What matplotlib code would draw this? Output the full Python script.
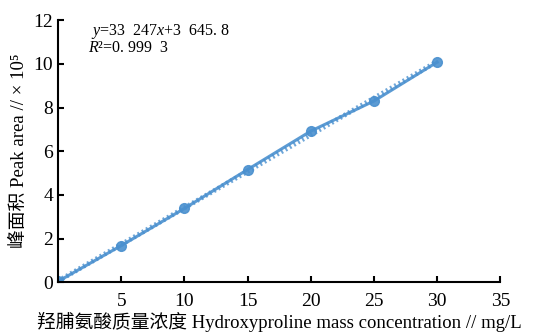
import matplotlib.pyplot as plt
import numpy as np

plt.rcParams['font.family'] = ['Liberation Serif', 'Noto Sans CJK SC', 'DejaVu Serif']
plt.rcParams['mathtext.fontset'] = 'custom'
plt.rcParams['mathtext.rm'] = 'Liberation Serif'
plt.rcParams['mathtext.it'] = 'Liberation Serif:italic'

conc = [0, 5, 10, 15, 20, 25, 30]
area = [0.04, 1.68, 3.38, 5.16, 6.92, 8.3, 10.08]
x_ticks = [5, 10, 15, 20, 25, 30, 35]
y_ticks = [0, 2, 4, 6, 8, 10, 12]

fig, ax = plt.subplots(figsize=(5.38, 3.36), dpi=100)
fig.subplots_adjust(left=0.108, right=0.93, bottom=0.16, top=0.94)

c = '#4a90cf'
k, b = np.polyfit(conc, area, 1)
xs = np.array([0, 30])
ax.plot(xs, k * xs + b, color=c, lw=3.5, ls=(0, (0.4, 0.6)), alpha=0.8)
ax.plot(conc, area, color=c, lw=2.2, marker='o', ms=7, alpha=0.9)

ax.set_xlim(0, 35)
ax.set_ylim(0, 12)
ax.set_xticks(x_ticks)
ax.set_yticks(y_ticks)
for s in ['top', 'right']:
    ax.spines[s].set_visible(False)
for s in ['left', 'bottom']:
    ax.spines[s].set_linewidth(1.5)
ax.tick_params(direction='in', length=4, width=1.5, labelsize=14)
ax.tick_params(axis='x', pad=8)

ax.set_xlabel('羟脯氨酸质量浓度 Hydroxyproline mass concentration // mg/L', fontsize=13.5, labelpad=1)
ax.set_ylabel('峰面积 Peak area // × 10⁵', fontsize=13.5, labelpad=4)
ax.text(2.6, 11.47, '$y$=33  247$x$+3  645. 8', fontsize=11.5, va='center')
ax.text(2.4, 10.72, '$R$²=0. 999  3', fontsize=11.5, va='center')

plt.savefig('out.png')
